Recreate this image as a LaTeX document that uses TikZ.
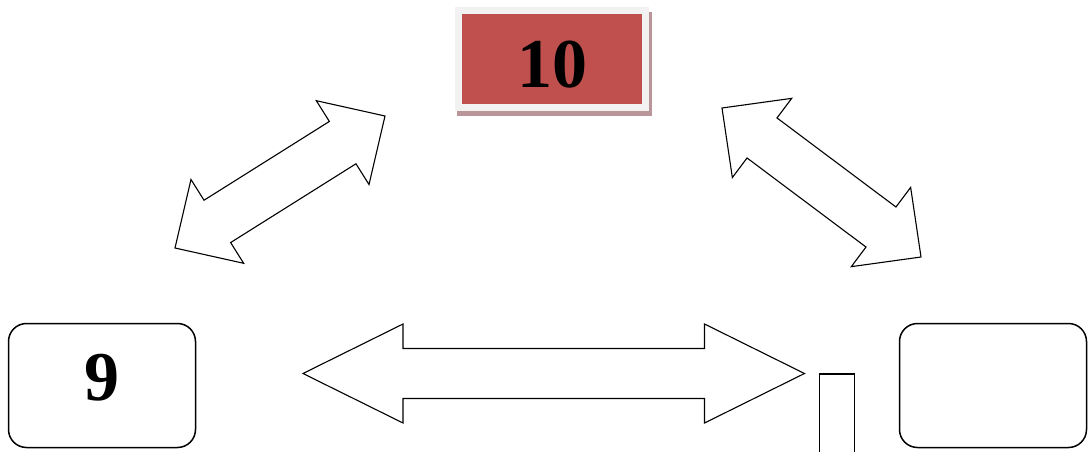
\documentclass[tikz,border=0pt]{standalone}
\usepackage{fontspec}
\setmainfont{Liberation Serif}
\usepackage{tikz}
\usetikzlibrary{calc}

\definecolor{boxred}{HTML}{C0504D}
\definecolor{framegray}{HTML}{F2F2F2}
\definecolor{shadowred}{HTML}{B99498}

% block arrow with a head at both ends: tips #1 and #2, head length #3
\newcommand{\dblarrow}[3]{%
  \draw[blockarrow] (#1)
    -- ($(#1)!#3!(#2)!49.5pt!90:(#2)$)
    -- ($(#1)!#3!(#2)!25pt!90:(#2)$)
    -- ($(#2)!#3!(#1)!25pt!-90:(#1)$)
    -- ($(#2)!#3!(#1)!49.5pt!-90:(#1)$)
    -- (#2)
    -- ($(#2)!#3!(#1)!49.5pt!90:(#1)$)
    -- ($(#2)!#3!(#1)!25pt!90:(#1)$)
    -- ($(#1)!#3!(#2)!25pt!-90:(#2)$)
    -- ($(#1)!#3!(#2)!49.5pt!-90:(#2)$)
    -- cycle;}

\begin{document}
\begin{tikzpicture}[x=1pt,y=-1pt,
    bignum/.style={font=\fontsize{70}{70}\selectfont\bfseries},
    numbox/.style={bignum,draw=black,line width=1.5pt,rounded corners=18pt,
      minimum width=187pt,minimum height=124pt,inner sep=0pt},
    blockarrow/.style={draw=black,fill=white,line width=1.1pt,line join=miter}]
            \clip (0,0) rectangle (1089,452);

            % Place the top node
            \fill[shadowred] (457,12) rectangle (652,116);
            \node[bignum,draw=framegray,line width=7pt,fill=boxred,outer sep=0pt,
              minimum width=187pt,minimum height=97pt,inner sep=0pt,
              text height=57pt,text depth=0pt] (box10) at (552,59) {10};

            % Place the bottom nodes
            \node[numbox,text height=47pt,text depth=18pt] (box9) at (102,385.5) {9};
            \node[numbox] (boxright) at (993,385.5) {};
            \node[draw=black,line width=1.5pt,minimum width=35pt,minimum height=90pt,
              inner sep=0pt] (bar) at (837,419) {};

            % The arrow tips
            \coordinate (l1) at (175,248);
            \coordinate (l2) at (385,116);
            \coordinate (r1) at (722,108);
            \coordinate (r2) at (921,257);
            \coordinate (h1) at (303,373.5);
            \coordinate (h2) at (804.5,373.5);

            % The arrows!
            \dblarrow{l1}{l2}{50pt}
            \dblarrow{r1}{r2}{50pt}
            \dblarrow{h1}{h2}{100pt}
        \end{tikzpicture}
\end{document}
